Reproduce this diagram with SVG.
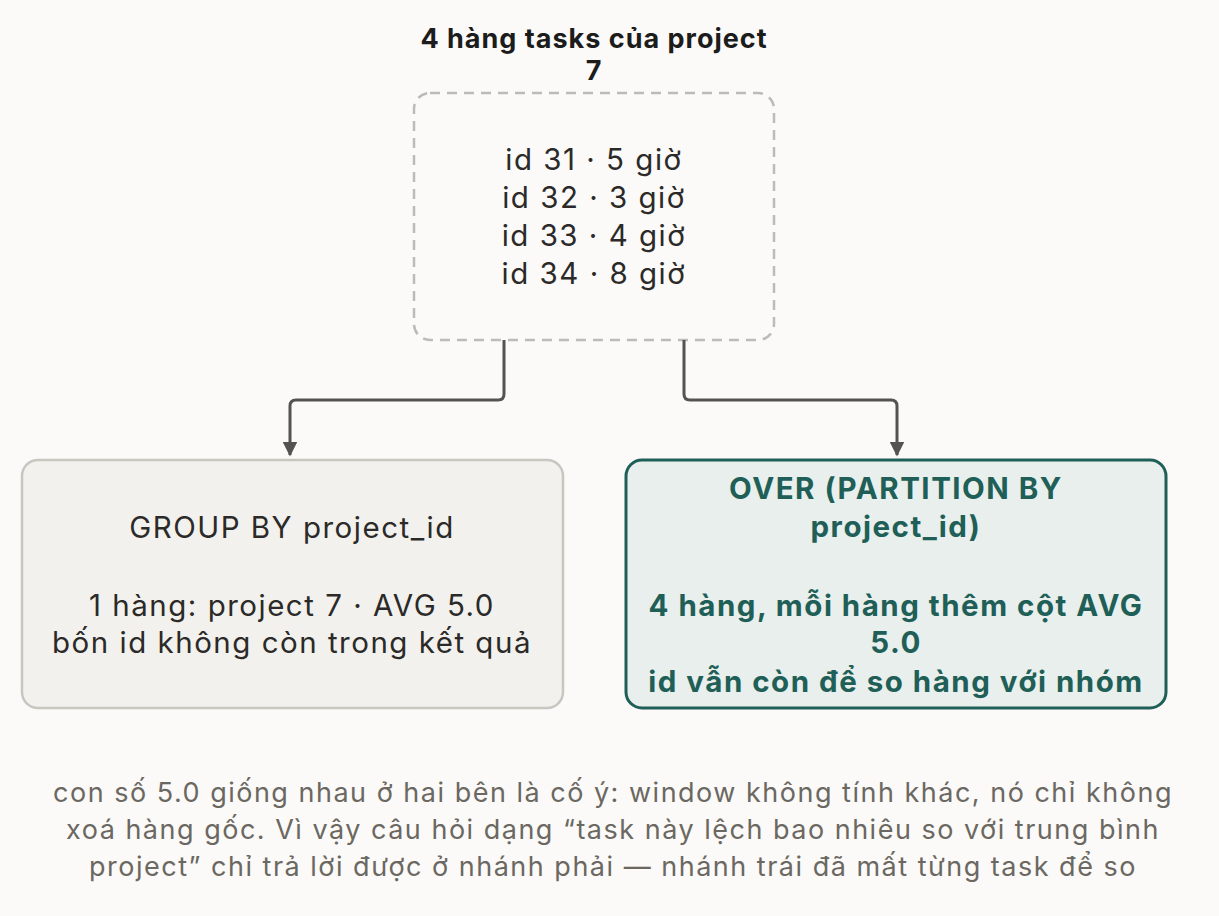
<svg xmlns="http://www.w3.org/2000/svg" width="1219" height="916" viewBox="0 0 1219 916">
<style>
text{font-family:"Inter","Noto Sans",sans-serif;text-anchor:middle}
.t{font-size:29.5px;letter-spacing:1.5px;fill:#2b2a28}
.b{font-size:29.5px;letter-spacing:1.5px;font-weight:700;fill:#1f5f57}
.n{font-size:27px;letter-spacing:1.5px;fill:#6b6862}
.h{font-size:27px;letter-spacing:1px;font-weight:700;fill:#1c1c1c}
.c{fill:none;stroke:#55534f;stroke-width:3}
</style>
<defs><marker id="a" viewBox="0 0 10 10" refX="9" refY="5" markerWidth="5" markerHeight="5" orient="auto"><path d="M0 0L10 5L0 10z" fill="#55534f"/></marker></defs>
<rect width="1219" height="916" fill="#fbfaf8"/>
<g id="title"><text class="h" x="594" y="48">4 hàng tasks của project</text><text class="h" x="594" y="80">7</text></g>
<g id="source"><rect x="414" y="93" width="360" height="247" rx="16" fill="#fbfaf8" stroke="#bdbbb6" stroke-width="2.5" stroke-dasharray="10 7"/>
<text class="t" x="594" y="170">id 31 · 5 giờ</text><text class="t" x="594" y="208">id 32 · 3 giờ</text><text class="t" x="594" y="246">id 33 · 4 giờ</text><text class="t" x="594" y="284">id 34 · 8 giờ</text></g>
<g id="connectors"><path class="c" d="M504 340V394q0 6-6 6H296q-6 0-6 6V455" marker-end="url(#a)"/><path class="c" d="M684 340V394q0 6 6 6H891q6 0 6 6V455" marker-end="url(#a)"/></g>
<g id="groupby"><rect x="22" y="460" width="541" height="248" rx="16" fill="#f2f1ed" stroke="#c8c6c0" stroke-width="2.5"/>
<text class="t" x="292" y="538">GROUP BY project_id</text><text class="t" x="292" y="616">1 hàng: project 7 · AVG 5.0</text><text class="t" x="292" y="653">bốn id không còn trong kết quả</text></g>
<g id="over"><rect x="626" y="460" width="540" height="248" rx="16" fill="#e8efec" stroke="#1f5f57" stroke-width="3"/>
<text class="b" x="896" y="499">OVER (PARTITION BY</text><text class="b" x="896" y="537">project_id)</text><text class="b" x="896" y="616">4 hàng, mỗi hàng thêm cột AVG</text><text class="b" x="896" y="653">5.0</text><text class="b" x="896" y="692">id vẫn còn để so hàng với nhóm</text></g>
<g id="note"><text class="n" x="613" y="802">con số 5.0 giống nhau ở hai bên là cố ý: window không tính khác, nó chỉ không</text><text class="n" x="613" y="839">xoá hàng gốc. Vì vậy câu hỏi dạng “task này lệch bao nhiêu so với trung bình</text><text class="n" x="613" y="876">project” chỉ trả lời được ở nhánh phải — nhánh trái đã mất từng task để so</text></g>
</svg>
